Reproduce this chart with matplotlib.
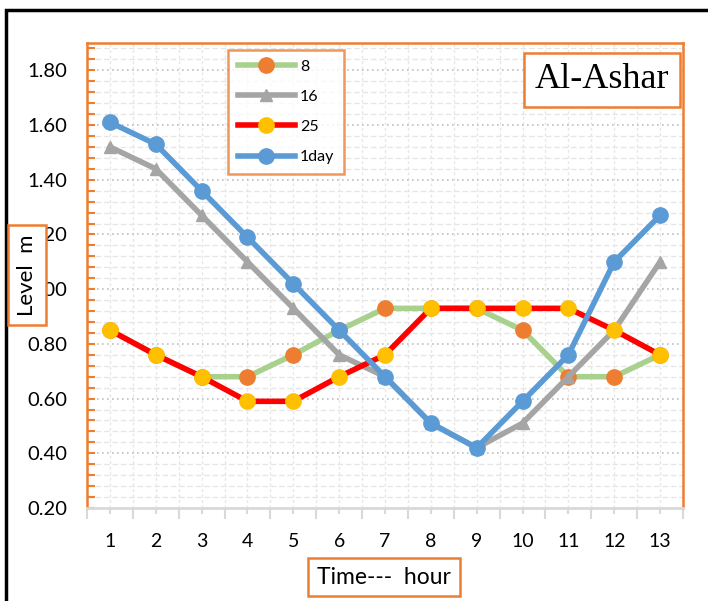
import matplotlib.pyplot as plt
from matplotlib.patches import Rectangle
import numpy as np

hours = list(range(1, 14))
level_8 = [0.85, 0.76, 0.68, 0.68, 0.76, 0.85, 0.93, 0.93, 0.93, 0.85, 0.68, 0.68, 0.76]
level_16 = [1.52, 1.44, 1.27, 1.10, 0.93, 0.76, 0.68, 0.51, 0.42, 0.51, 0.68, 0.85, 1.10]
level_25 = [0.85, 0.76, 0.68, 0.59, 0.59, 0.68, 0.76, 0.93, 0.93, 0.93, 0.93, 0.85, 0.76]
level_1day = [1.61, 1.53, 1.36, 1.19, 1.02, 0.85, 0.68, 0.51, 0.42, 0.59, 0.76, 1.10, 1.27]

orange = '#ED7D31'
plt.rcParams['font.family'] = ['Lato', 'DejaVu Sans']

fig = plt.figure(figsize=(7.08, 6.01), dpi=100)
ax = fig.add_axes([87/708, 93/601, 596/708, 465/601])

# series
ax.plot(hours, level_8, color='#A9D18E', lw=4, marker='o', ms=11,
        mfc=orange, mec=orange, label='8', zorder=3)
ax.plot(hours, level_16, color='#A5A5A5', lw=4, marker='^', ms=8,
        mfc='#A5A5A5', mec='#A5A5A5', label='16', zorder=4)
ax.plot(hours, level_25, color='#FF0000', lw=4, marker='o', ms=11,
        mfc='#FFC000', mec='#FFC000', label='25', zorder=5)
ax.plot(hours, level_1day, color='#5B9BD5', lw=4, marker='o', ms=11,
        mfc='#5B9BD5', mec='#5B9BD5', label='1day', zorder=6)

ax.set_xlim(0.5, 13.5)
ax.set_ylim(0.2, 1.9)
ax.set_xticks(hours)
ax.set_xticks(np.arange(0.5, 14, 1.0), minor=True)
ax.set_yticks(np.arange(0.2, 1.81, 0.2))
ax.set_yticks(np.arange(0.2, 1.9, 0.04), minor=True)
ax.set_yticklabels([f'{v:.2f}' for v in np.arange(0.2, 1.81, 0.2)])

# grid
ax.grid(axis='y', which='major', color='#BFBFBF', ls=(0, (1, 2)), lw=1.2)
ax.grid(axis='y', which='minor', color='#E6E6E6', ls=(0, (4, 2)), lw=1)
for x in np.arange(1.0, 13.6, 0.5):
    ax.axvline(x, color='#E6E6E6', ls=(0, (2, 2)), lw=1, zorder=0)
ax.set_axisbelow(True)

for s in ['left', 'top', 'right']:
    ax.spines[s].set_color(orange)
    ax.spines[s].set_linewidth(1.8)
ax.spines['bottom'].set_color('#D9D9D9')
ax.spines['bottom'].set_linewidth(2)

ax.tick_params(axis='y', which='both', direction='in', color=orange,
               length=6, width=1.5, labelsize=14.5, pad=14)
ax.tick_params(axis='x', which='major', direction='out', color='#D9D9D9',
               length=4, width=1.5, labelsize=14, pad=14)
ax.tick_params(axis='x', which='minor', direction='out', color='#D9D9D9',
               length=8, width=1.5)

leg = ax.legend(loc='upper left', bbox_to_anchor=(141/596, 1 - 7/465),
                frameon=True, fancybox=False, fontsize=11.5, handlelength=3.6,
                labelspacing=1.0, borderpad=0.6, handletextpad=0.3,
                borderaxespad=0)
leg.get_frame().set_edgecolor(orange)
leg.get_frame().set_linewidth(1.8)

# station name
fig.text(602/708, 1 - 80/601, 'Al-Ashar', family='Liberation Serif', fontsize=26,
         ha='center', va='center',
         bbox=dict(boxstyle='square,pad=0.3', fc='white', ec=orange, lw=1.8))

# axis titles, boxed; the y title sits over the left tick labels
fig.text(27/708, 1 - 275/601, 'Level  m', rotation=90, fontsize=16,
         ha='center', va='center', zorder=10,
         bbox=dict(boxstyle='square,pad=0.42', fc='white', ec=orange, lw=1.8))
fig.text(384/708, 1 - 577/601, 'Time---  hour', fontsize=16.5,
         ha='center', va='center',
         bbox=dict(boxstyle='square,pad=0.38', fc='white', ec=orange, lw=1.8))

# outer frame
fig.patches.append(Rectangle((6/708, -0.1), 1.2, 1 - 10/601 + 0.1,
                             transform=fig.transFigure, fill=False,
                             ec='black', lw=2.5, clip_on=False))

fig.savefig('out.png', dpi=100)
